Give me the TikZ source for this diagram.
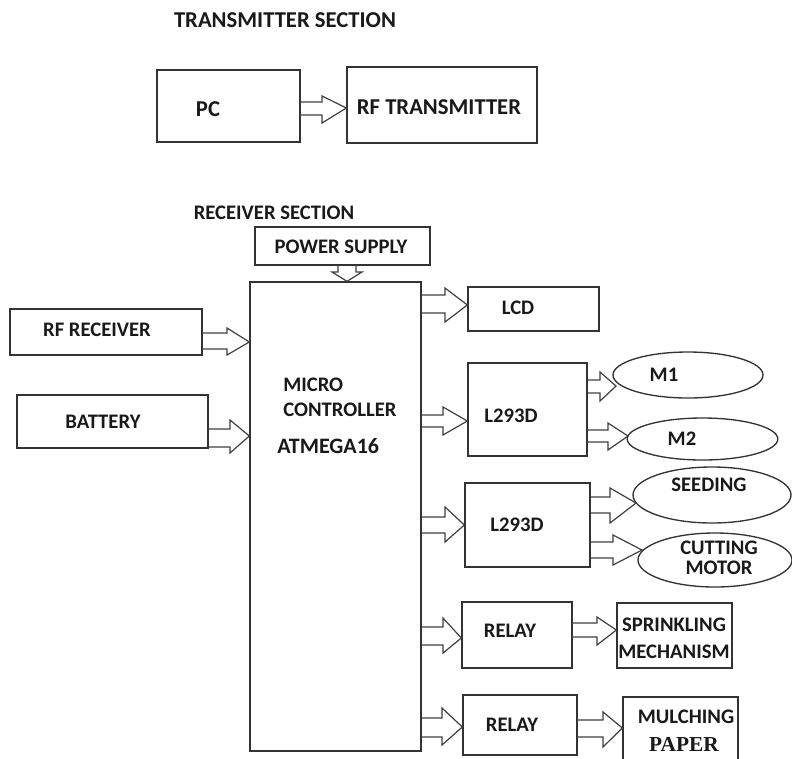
\documentclass[tikz,border=0pt]{standalone}
\usepackage{fontspec}
\setmainfont{Carlito}
\newfontfamily\tnrfont{Liberation Serif}
\usetikzlibrary{fit,shapes.geometric}
\tikzset{
  blk/.style={draw=black!80, line width=1pt, inner sep=0pt, rectangle},
  ell/.style={draw=black!80, line width=1pt, inner sep=0pt, ellipse},
  lbl/.style={inner sep=0pt, font=\fontsize{15.5}{18}\selectfont\bfseries, text=black!90},
  biglbl/.style={inner sep=0pt, font=\fontsize{17}{20}\selectfont\bfseries, text=black!90},
  arr/.style={draw=black!75, line width=0.9pt, line join=miter},
}
% #1 source anchor, #2 tip x-anchor coordinate, #3 head start x, #4/#5 shaft ys, #6/#7 head ys, #8 tip y
\newcommand\harr[8]{%
  \draw[arr] (#1 |- 0,#4) -- (#3,#4) -- (#3,#6) -- (#2 |- 0,#8) -- (#3,#7) -- (#3,#5) -- (#1 |- 0,#5);}
\begin{document}
\begin{tikzpicture}[x=0.75pt,y=-0.75pt]
\clip (0,0) rectangle (792,758);
\fill[white] (0,0) rectangle (792,758);

% transmitter section
\node[biglbl] (tt) at (285,20) {TRANSMITTER SECTION};
\node[blk, fit={(157,70)(300,142)}] (pc) {};
\node[blk, fit={(347,67)(537,143)}] (rft) {};
\node[biglbl] (pct) at (208,109) {PC};
\node[biglbl] (rftt) at (439,107) {RF TRANSMITTER};
\harr{pc.east}{rft.west}{322}{102}{115}{96}{123}{108}

% receiver section
\node[lbl] (rt) at (274,213) {RECEIVER SECTION};
\node[blk, fit={(255,227)(430,265)}] (ps) {};
\node[lbl] (pst) at (341,247) {POWER SUPPLY};
\node[blk, fit={(250,282)(421,751)}] (mcu) {};
\node[lbl, anchor=west] (mc1) at (283,385) {MICRO};
\node[lbl, anchor=west] (mc2) at (283,410) {CONTROLLER};
\node[lbl, anchor=west, font=\fontsize{16.5}{18}\selectfont\bfseries] (mc3) at (277,446) {ATMEGA16};
\draw[arr] (338,0 |- ps.south) -- (338,272) -- (332,272) -- (347,0 |- mcu.north) -- (362,272) -- (356,272) -- (356,0 |- ps.south);

\node[blk, fit={(10,309)(202,355)}] (rfr) {};
\node[lbl] (rfrt) at (97,330) {RF RECEIVER};
\node[blk, fit={(17,395)(208,448)}] (bat) {};
\node[lbl] (batt) at (103,422) {BATTERY};
\harr{rfr.east}{mcu.west}{227}{333}{349}{328}{355}{342}
\harr{bat.east}{mcu.west}{230}{429}{447}{420}{453}{436}

% outputs
\node[blk, fit={(468,287)(599,331)}] (lcd) {};
\node[lbl] (lcdt) at (518,308) {LCD};
\harr{mcu.east}{lcd.west}{445}{295}{313}{288}{322}{305}

\node[blk, fit={(468,363)(587,456)}] (l1) {};
\node[lbl] (l1t) at (511,416) {L293D};
\harr{mcu.east}{l1.west}{443}{415}{427}{407}{435}{421}

\node[ell, minimum width=112.5pt, minimum height=34.5pt] (m1) at (688,375) {};
\node[lbl] (m1t) at (664,375) {M1};
\node[ell, minimum width=113pt, minimum height=31.5pt] (m2) at (702.5,439) {};
\node[lbl] (m2t) at (682,439) {M2};
\coordinate (m1tip) at (616,386);
\coordinate (m2tip) at (628,436);
\harr{l1.east}{m1tip}{600}{380}{393}{372}{401}{386}
\harr{l1.east}{m2tip}{608}{430}{442}{423}{450}{436}

\node[blk, fit={(465,483)(590,567)}] (l2) {};
\node[lbl] (l2t) at (517,525) {L293D};
\harr{mcu.east}{l2.west}{445}{517}{533}{507}{542}{525}

\node[ell, minimum width=118.5pt, minimum height=42pt] (seed) at (712,495) {};
\node[lbl] (seedt) at (709,485) {SEEDING};
\node[ell, minimum width=115.5pt, minimum height=40.5pt] (cut) at (715,560) {};
\node[lbl, align=center, font=\fontsize{15.5}{15}\selectfont\bfseries] (cutt) at (719,558) {CUTTING\\MOTOR};
\coordinate (seedtip) at (636,503);
\coordinate (cuttip) at (642,550);
\harr{l2.east}{seedtip}{610}{497}{513}{488}{523}{503}
\harr{l2.east}{cuttip}{613}{542}{558}{535}{565}{550}

\node[blk, fit={(462,602)(572,668)}] (r1) {};
\node[lbl] (r1t) at (510,631) {RELAY};
\harr{mcu.east}{r1.west}{443}{627}{645}{618}{653}{638}
\node[blk, fit={(617,603)(732,668)}] (spr) {};
\node[lbl, align=center, font=\fontsize{15.5}{20}\selectfont\bfseries] (sprt) at (674,638) {SPRINKLING\\MECHANISM};
\harr{r1.east}{spr.west}{597}{623}{637}{617}{645}{630}

\node[blk, fit={(463,695)(577,755)}] (r2) {};
\node[lbl] (r2t) at (512,725) {RELAY};
\harr{mcu.east}{r2.west}{442}{718}{737}{708}{745}{727}
\node[blk, fit={(623,697)(738,775)}] (mul) {};
\node[lbl] (mult) at (686,717) {MULCHING};
\node[lbl, font=\fontsize{16}{18}\selectfont\bfseries\tnrfont] (papt) at (684,744) {PAPER};
\harr{r2.east}{mul.west}{603}{720}{737}{712}{747}{728}
\end{tikzpicture}
\end{document}
